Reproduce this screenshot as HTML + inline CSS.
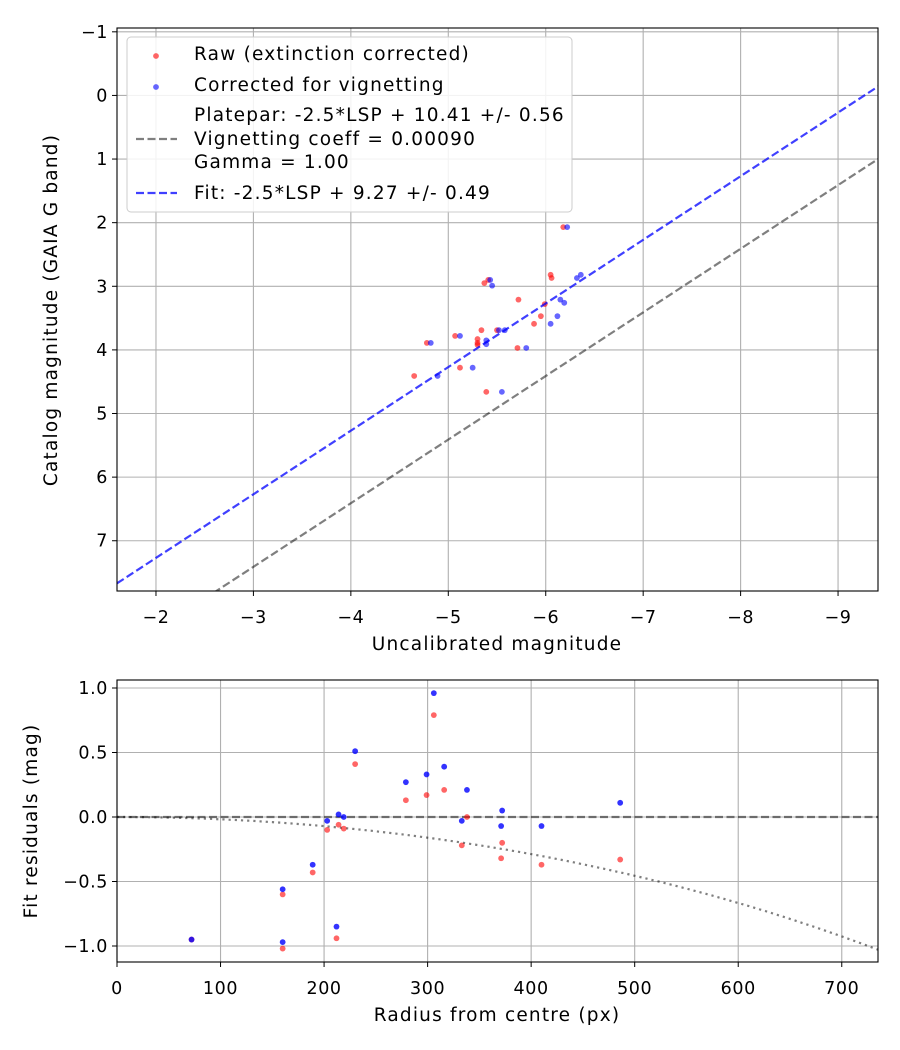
<!DOCTYPE html>
<html><head><meta charset="utf-8"><style>
body{margin:0;background:#fff}
svg{display:block;font-family:"DejaVu Sans","Liberation Sans",sans-serif}
.lt{letter-spacing:1.2px}
.tk{letter-spacing:0.6px}
</style></head><body>
<svg id="c" width="900" height="1050" viewBox="0 0 900 1050"></svg>
<script>
// ---- top panel data ----
const rawX=[-6.18,-6.05,-6.06,-5.41,-5.37,-5.72,-5.99,-5.95,-5.88,-5.34,-5.50,-5.07,-5.30,-5.30,-5.30,-5.71,-4.78,-5.12,-4.65,-5.39];
const rawY=[2.07,2.82,2.87,2.90,2.95,3.21,3.28,3.47,3.59,3.69,3.69,3.78,3.83,3.89,3.92,3.97,3.89,4.28,4.41,4.66];
const corX=[-6.22,-5.43,-5.45,-6.32,-6.36,-6.15,-6.19,-6.12,-6.05,-5.52,-5.58,-5.12,-5.39,-5.39,-5.80,-4.82,-5.25,-4.89,-5.55];
const corY=[2.07,2.90,2.99,2.87,2.82,3.21,3.26,3.47,3.59,3.69,3.69,3.78,3.85,3.91,3.97,3.89,4.28,4.41,4.66];
const topXTicks=[-2,-3,-4,-5,-6,-7,-8,-9];
const topYTicks=[-1,0,1,2,3,4,5,6,7];
const platepar=10.41, fitZero=9.27;
// ---- bottom panel data ----
const radius=[72,160,160,189,203,214,219,212,230,279,299,306,316,338,333,372,371,410,486];
const resRaw=[-0.95,-0.60,-1.02,-0.43,-0.10,-0.06,-0.09,-0.94,0.41,0.13,0.17,0.79,0.21,0.0,-0.22,-0.20,-0.32,-0.37,-0.33];
const resCor=[-0.95,-0.56,-0.97,-0.37,-0.03,0.02,0.0,-0.85,0.51,0.27,0.33,0.96,0.39,0.21,-0.03,0.05,-0.07,-0.07,0.11];
const botXTicks=[0,100,200,300,400,500,600,700];
const botYTicks=[-1.0,-0.5,0.0,0.5,1.0];
const vignCoeff=0.0009;

const TF=17.5, LF=18.5, PR=2.9;
const NS="http://www.w3.org/2000/svg";
const svg=document.getElementById('c');
function el(t,a,p){const e=document.createElementNS(NS,t);for(const k in a)e.setAttribute(k,a[k]);(p||svg).appendChild(e);return e;}
function txt(s,a,p){const e=el('text',a,p);e.textContent=s;return e;}

// top axes
const T={l:117,r:878,t:28,b:591,x0:-1.6,x1:-9.41,y0:-1.06,y1:7.79};
const tx=v=>T.l+(v-T.x0)/(T.x1-T.x0)*(T.r-T.l);
const ty=v=>T.t+(v-T.y0)/(T.y1-T.y0)*(T.b-T.t);
const gTop=el('g',{});


el('defs',{}).innerHTML='<clipPath id="ct"><rect x="117" y="28" width="761" height="563"/></clipPath><clipPath id="cb"><rect x="117" y="680" width="761" height="282"/></clipPath>';
topXTicks.forEach(v=>{const x=tx(v);
 const g=el('line',{x1:x,x2:x,y1:T.t,y2:T.b,stroke:'#b0b0b0','stroke-width':1.1},gTop);
 el('line',{x1:x,x2:x,y1:T.b,y2:T.b+5,stroke:'#000'},gTop);
 const t=txt('−'+Math.abs(v),{x:x,y:T.b+32,'text-anchor':'middle','font-size':TF,class:'tk'},gTop);});
topYTicks.forEach(v=>{const y=ty(v);
 const g=el('line',{x1:T.l,x2:T.r,y1:y,y2:y,stroke:'#b0b0b0','stroke-width':1.1},gTop);
 el('line',{x1:T.l-5,x2:T.l,y1:y,y2:y,stroke:'#000'},gTop);
 const t=txt(v<0?'−'+Math.abs(v):String(v),{x:T.l-9,y:y+6,'text-anchor':'end','font-size':TF,class:'tk'},gTop);});
const cl=el('g',{'clip-path':'url(#ct)'},gTop);
rawX.forEach((v,i)=>{const c=el('circle',{cx:tx(v),cy:ty(rawY[i]),r:PR,fill:'red','fill-opacity':0.6},cl);});
corX.forEach((v,i)=>{const c=el('circle',{cx:tx(v),cy:ty(corY[i]),r:PR,fill:'blue','fill-opacity':0.6},cl);});
let ln=el('line',{x1:tx(T.x0),y1:ty(T.x0+platepar),x2:tx(T.x1),y2:ty(T.x1+platepar),stroke:'#000','stroke-opacity':0.5,'stroke-width':2.2,'stroke-dasharray':'8,3.5'},cl);

ln=el('line',{x1:tx(T.x0),y1:ty(T.x0+fitZero),x2:tx(T.x1),y2:ty(T.x1+fitZero),stroke:'blue','stroke-opacity':0.75,'stroke-width':2.2,'stroke-dasharray':'8,3.5'},cl);

el('rect',{x:T.l,y:T.t,width:T.r-T.l,height:T.b-T.t,fill:'none',stroke:'#000','stroke-width':1.1},gTop);
let lab=txt('Uncalibrated magnitude',{x:497,y:650,'text-anchor':'middle','font-size':LF,class:'lt'},gTop);
lab=txt('Catalog magnitude (GAIA G band)',{transform:'translate(57,310) rotate(-90)','text-anchor':'middle','font-size':LF,class:'lt'},gTop);
// legend
const lg=el('g',{},gTop);
el('rect',{x:127,y:37,width:445,height:175,rx:4,fill:'#fff','fill-opacity':0.85,stroke:'#ccc'},lg);
el('circle',{cx:156,cy:56,r:PR,fill:'red','fill-opacity':0.6},lg);
el('circle',{cx:156,cy:87,r:PR,fill:'blue','fill-opacity':0.6},lg);
el('line',{x1:136,x2:177,y1:139,y2:139,stroke:'#000','stroke-opacity':0.5,'stroke-width':2.2,'stroke-dasharray':'8,3.5'},lg);
el('line',{x1:136,x2:177,y1:193,y2:193,stroke:'blue','stroke-opacity':0.75,'stroke-width':2.2,'stroke-dasharray':'8,3.5'},lg);
[['Raw (extinction corrected)',60],['Corrected for vignetting',91],['Platepar: -2.5*LSP + 10.41 +/- 0.56',121],['Vignetting coeff = 0.00090',145],['Gamma = 1.00',168],['Fit: -2.5*LSP + 9.27 +/- 0.49',199]].forEach(a=>{const t=txt(a[0],{x:194,y:a[1],'font-size':LF,class:'lt'},lg);});

// bottom axes
const B={l:117,r:878,t:680,b:962,x0:0,x1:735,y0:1.062,y1:-1.124};
const bx=v=>B.l+(v-B.x0)/(B.x1-B.x0)*(B.r-B.l);
const by=v=>B.t+(v-B.y0)/(B.y1-B.y0)*(B.b-B.t);
const gB=el('g',{});
botXTicks.forEach(v=>{const x=bx(v);
 const g=el('line',{x1:x,x2:x,y1:B.t,y2:B.b,stroke:'#b0b0b0','stroke-width':1.1},gB);
 el('line',{x1:x,x2:x,y1:B.b,y2:B.b+5,stroke:'#000'},gB);
 const t=txt(String(v),{x:x,y:B.b+32,'text-anchor':'middle','font-size':TF,class:'tk'},gB);});
botYTicks.forEach(v=>{const y=by(v);
 const g=el('line',{x1:B.l,x2:B.r,y1:y,y2:y,stroke:'#b0b0b0','stroke-width':1.1},gB);
 el('line',{x1:B.l-5,x2:B.l,y1:y,y2:y,stroke:'#000'},gB);
 const t=txt((v<0?'−':'')+Math.abs(v).toFixed(1),{x:B.l-9,y:y+6,'text-anchor':'end','font-size':TF,class:'tk'},gB);});
const cb=el('g',{'clip-path':'url(#cb)'},gB);
ln=el('line',{x1:B.l,x2:B.r,y1:by(0),y2:by(0),stroke:'#000','stroke-opacity':0.5,'stroke-width':2.2,'stroke-dasharray':'8,3.5'},cb);

let d='';for(let r=0;r<=740;r+=5){const c=Math.cos(vignCoeff*r);const m=2.5*Math.log10(Math.pow(c,4));d+=(r?'L':'M')+bx(r).toFixed(1)+','+by(m).toFixed(1);}
ln=el('path',{d:d,fill:'none',stroke:'#000','stroke-opacity':0.5,'stroke-width':2.2,'stroke-dasharray':'2.2,4'},cb);

radius.forEach((v,i)=>{const c=el('circle',{cx:bx(v),cy:by(resRaw[i]),r:PR,fill:'red','fill-opacity':0.6},cb);});
radius.forEach((v,i)=>{const c=el('circle',{cx:bx(v),cy:by(resCor[i]),r:PR,fill:'blue','fill-opacity':0.8},cb);});
el('rect',{x:B.l,y:B.t,width:B.r-B.l,height:B.b-B.t,fill:'none',stroke:'#000','stroke-width':1.1},gB);
lab=txt('Radius from centre (px)',{x:497,y:1021,'text-anchor':'middle','font-size':LF,class:'lt'},gB);
lab=txt('Fit residuals (mag)',{transform:'translate(37,821) rotate(-90)','text-anchor':'middle','font-size':LF,class:'lt'},gB);
</script>
</body></html>
